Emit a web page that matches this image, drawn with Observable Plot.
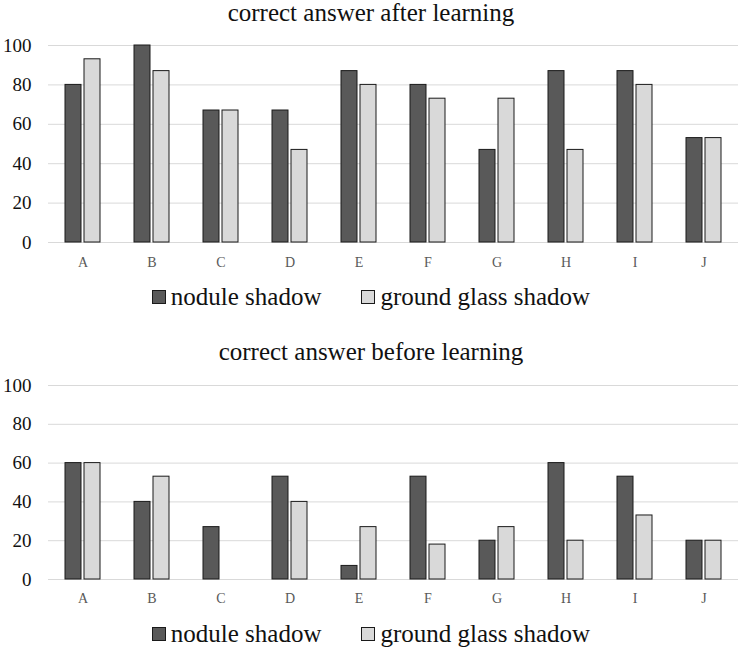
<!DOCTYPE html>
<html>
<head>
<meta charset="utf-8">
<script src="https://cdn.jsdelivr.net/npm/d3@7"></script>
<script src="https://cdn.jsdelivr.net/npm/@observablehq/plot@0.6"></script>
<style>
  html, body { margin: 0; padding: 0; background: #fff; }
  #root { position: relative; width: 742px; height: 649px; font-family: 'Liberation Serif', serif; }
  .title { position: absolute; left: 0; width: 742px; height: 26px; line-height: 26px; text-align: center; font-size: 25px; color: #111; font-family: 'Liberation Serif', serif; }
  .legend { position: absolute; left: 0; width: 742px; height: 28px; display: flex; justify-content: center; align-items: center; font-size: 25px; color: #111; font-family: 'Liberation Serif', serif; }
  .item { display: flex; align-items: center; }
  .sw { width: 12px; height: 12px; border: 1px solid #1a1a1a; margin-right: 5px; }
  .chart { position: absolute; left: 0; }
  .chart text { font-family: 'Liberation Serif', serif; }
</style>
</head>
<body>
<div id="root"></div>
<script>
const categories = ["A", "B", "C", "D", "E", "F", "G", "H", "I", "J"];
const seriesNames = ["nodule shadow", "ground glass shadow"];
const seriesColors = ["#595959", "#d9d9d9"];
const yTicks = [0, 20, 40, 60, 80, 100];

const afterNodule = [80, 100, 67, 67, 87, 80, 47, 87, 87, 53];
const afterGround = [93, 87, 67, 47, 80, 73, 73, 47, 80, 53];
const beforeNodule = [60, 40, 27, 53, 7, 53, 20, 60, 53, 20];
const beforeGround = [60, 53, 0, 40, 27, 18, 27, 20, 33, 20];

const titles = ["correct answer after learning", "correct answer before learning"];

function table(a, b) {
  const rows = [];
  categories.forEach((c, i) => {
    rows.push({cat: c, series: seriesNames[0], value: a[i]});
    rows.push({cat: c, series: seriesNames[1], value: b[i]});
  });
  return rows.filter(d => d.value > 0);
}

function chart(data, plotHeight, tickPad) {
  const mt = 17, mb = 36;
  return Plot.plot({
    width: 742,
    height: mt + plotHeight + mb,
    marginTop: mt,
    marginBottom: mb,
    marginLeft: 44,
    marginRight: 0,
    style: {fontFamily: "'Liberation Serif', serif", background: "#fff"},
    fx: {domain: categories, padding: 0, axis: null},
    x: {domain: seriesNames, paddingInner: 0.15, paddingOuter: 0.82, axis: null},
    y: {domain: [0, 100], axis: null},
    color: {domain: seriesNames, range: seriesColors},
    marks: [
      Plot.ruleY(yTicks, {stroke: "#d9d9d9", strokeWidth: 1}),
      Plot.barY(data, {fx: "cat", x: "series", y: "value", fill: "series", stroke: "#1a1a1a", strokeWidth: 1}),
      Plot.axisY(yTicks, {tickSize: 0, tickPadding: 17, fontSize: 19, fill: "#111", label: null}),
      Plot.axisFx({anchor: "bottom", tickSize: 0, tickPadding: tickPad, fontSize: 14, fill: "#595959", label: null})
    ]
  });
}

function legend(top) {
  const div = document.createElement("div");
  div.className = "legend";
  div.style.top = top + "px";
  seriesNames.forEach((s, i) => {
    const it = document.createElement("div");
    it.className = "item";
    if (i > 0) it.style.marginLeft = "40px";
    const sw = document.createElement("div");
    sw.className = "sw";
    sw.style.background = seriesColors[i];
    const t = document.createElement("span");
    t.textContent = s;
    it.appendChild(sw); it.appendChild(t);
    div.appendChild(it);
  });
  return div;
}

function title(text, top) {
  const d = document.createElement("div");
  d.className = "title";
  d.style.top = top + "px";
  d.textContent = text;
  return d;
}

const root = document.getElementById("root");
root.appendChild(title(titles[0], 0));
const c1 = chart(table(afterNodule, afterGround), 197, 15);
c1.classList.add("chart"); c1.style.top = "28px";
root.appendChild(c1);
root.appendChild(legend(283));

root.appendChild(title(titles[1], 339));
const c2 = chart(table(beforeNodule, beforeGround), 194, 14);
c2.classList.add("chart"); c2.style.top = "368px";
root.appendChild(c2);
root.appendChild(legend(620));
</script>
</body>
</html>
